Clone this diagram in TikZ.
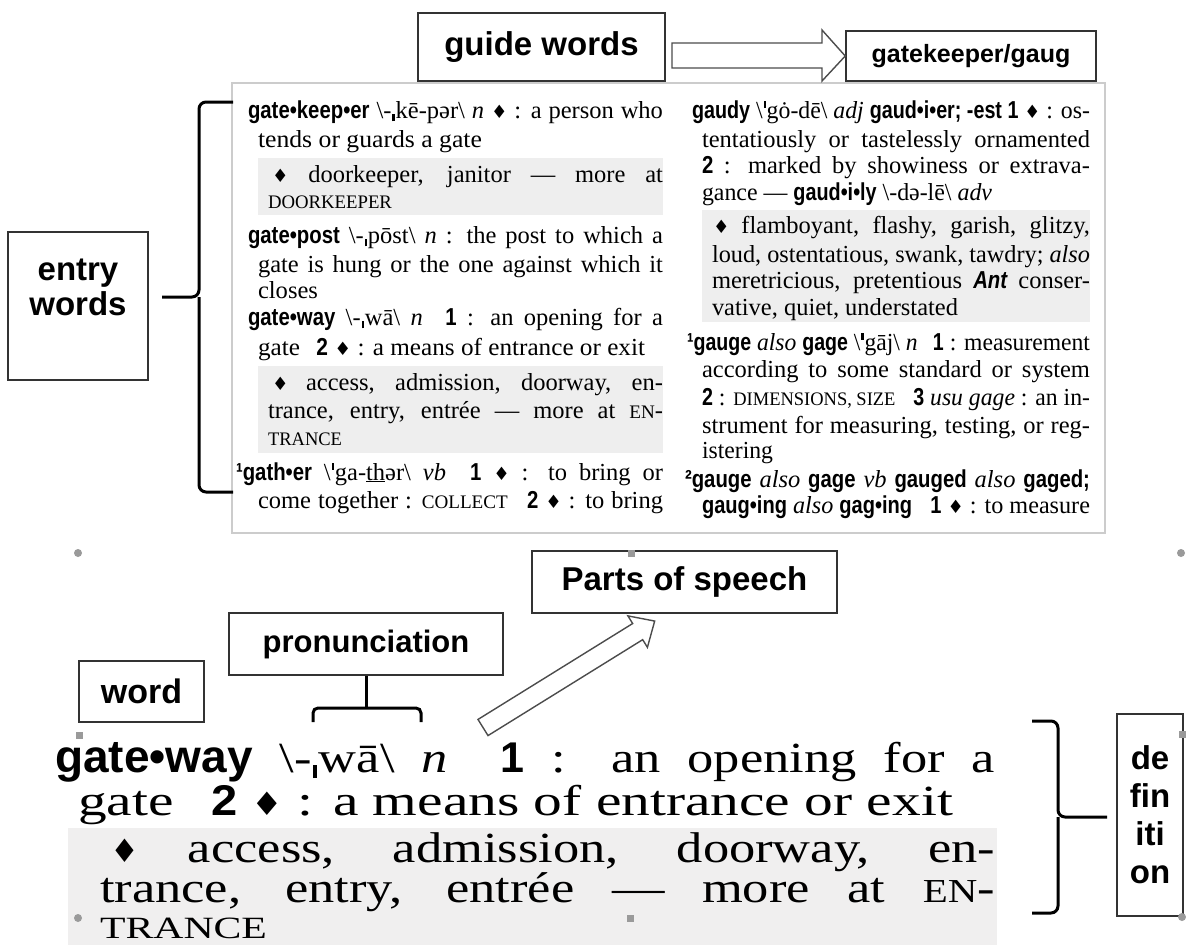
\documentclass[tikz,border=0pt]{standalone}
\usepackage{graphicx}
\usepackage{fontspec}
\setmainfont{Liberation Serif}
\newfontfamily\hw[FakeStretch=0.83]{Liberation Sans}
\newfontfamily\lab{Liberation Sans}
\newfontfamily\sym{DejaVu Sans}
\newfontfamily\bigserif[FakeStretch=1.22]{Liberation Serif}
\definecolor{syn}{HTML}{EEEEEE}
\definecolor{synb}{HTML}{F0EFEF}
\definecolor{hdl}{HTML}{9A9A9A}
\newlength\natw
\newcommand\jl[2]{\settowidth\natw{#2}\ifdim\natw>#1pt\relax\resizebox{#1pt}{\height}{#2}\else\hbox to #1pt{#2}\fi}
\newcommand\fl[2]{\resizebox{#1pt}{\height}{#2}}
\newcommand\bs{\textbackslash}
\newcommand\hwd[1]{{\hw\bfseries #1}}
\newcommand\bn[1]{{\hw\bfseries #1}}
\newcommand\dia{{\sym\scalebox{0.75}{♦}}}
\newcommand\smc[1]{\scalebox{0.78}{#1}}
\newcommand\lst{\hspace{0.04em}\rule[-0.14em]{0.09em}{0.3em}\hspace{0.04em}}
\newcommand\hst{\hspace{0.04em}\rule[0.42em]{0.09em}{0.28em}\hspace{0.04em}}
\newcommand\topfont{\fontsize{24.5}{28}\selectfont}
\newcommand\botfont{\bigserif\fontsize{43}{43}\selectfont}
\tikzset{
  txt/.style={anchor=base west, inner sep=0pt, outer sep=0pt, font=\topfont},
  btxt/.style={anchor=base west, inner sep=0pt, outer sep=0pt, font=\botfont},
  lbox/.style={draw=black!80, line width=1.5pt, fill=white, inner sep=0pt},
  brk/.style={draw=black, line width=3pt, rounded corners=7pt},
  blockarrow/.style={draw=black!70, line width=1.4pt, fill=white, line join=miter},
  hdot/.style={fill=hdl, circle, inner sep=0pt, minimum size=8pt},
  hsq/.style={fill=hdl, inner sep=0pt, minimum size=7pt}
}
\begin{document}
\begin{tikzpicture}[x=1pt, y=-1pt]
\useasboundingbox (0,0) rectangle (1186,945);
\fill[white] (0,0) rectangle (1186,945);

% dictionary panel
\draw[draw=black!20, line width=2pt] (232,83) rectangle (1105,533);
\fill[syn] (258,158) rectangle (663,215);
\fill[syn] (258,366) rectangle (663,453);
\fill[syn] (702,210) rectangle (1090,322);

% left column
\node[txt] (l1) at (248,118) {\jl{415}{\hwd{gate•keep•er} \bs-\lst kē-pər\bs{} \textit{n} \dia{} : a person who}};
\node[txt] (l2) at (258,147) {\fl{224}{tends or guards a gate}};
\node[txt] (l3) at (272,182) {\jl{391}{\dia{} doorkeeper, janitor — more at}};
\node[txt] (l4) at (268,208) {\fl{124}{\smc{DOORKEEPER}}};
\node[txt] (l5) at (248,243) {\jl{415}{\hwd{gate•post} \bs-\lst pōst\bs{} \textit{n} : the post to which a}};
\node[txt] (l6) at (258,272) {\jl{405}{gate is hung or the one against which it}};
\node[txt] (l7) at (258,298) {\fl{60}{closes}};
\node[txt] (l8) at (248,325) {\jl{415}{\hwd{gate•way} \bs-\lst wā\bs{} \textit{n}\hspace{0.5em} \bn{1} : an opening for a}};
\node[txt] (l9) at (258,355) {\fl{387}{gate\hspace{0.4em} \bn{2} \dia{} : a means of entrance or exit}};
\node[txt] (l10) at (272,390) {\jl{391}{\dia{} access, admission, doorway, en-}};
\node[txt] (l11) at (268,418) {\jl{395}{trance, entry, entrée — more at \smc{EN}-}};
\node[txt] (l12) at (268,445) {\fl{74}{\smc{TRANCE}}};
\node[txt] (l13) at (236,480) {\jl{427}{\hwd{¹gath•er} \bs\hst ga-\underline{th}ər\bs{} \textit{vb}\hspace{0.5em} \bn{1} \dia{} : to bring or}};
\node[txt] (l14) at (258,508) {\jl{405}{come together : \smc{COLLECT}\hspace{0.5em} \bn{2} \dia{} : to bring}};

% right column
\node[txt] (r1) at (692,118) {\jl{398}{\hwd{gaudy} \bs\hst gȯ-dē\bs{} \textit{adj} \hwd{gaud•i•er; -est 1} \dia{} : os-}};
\node[txt] (r2) at (702,147) {\jl{388}{tentatiously or tastelessly ornamented}};
\node[txt] (r3) at (702,173) {\jl{388}{\bn{2} : marked by showiness or extrava-}};
\node[txt] (r4) at (702,200) {\fl{290}{gance — \hwd{gaud•i•ly} \bs-də-lē\bs{} \textit{adv}}};
\node[txt] (r5) at (713,233) {\jl{377}{\dia{} flamboyant, flashy, garish, glitzy,}};
\node[txt] (r6) at (712,262) {\jl{378}{loud, ostentatious, swank, tawdry; \textit{also}}};
\node[txt] (r7) at (712,288) {\jl{378}{meretricious, pretentious {\hw\bfseries\itshape Ant} conser-}};
\node[txt] (r8) at (712,315) {\fl{246}{vative, quiet, understated}};
\node[txt] (r9) at (687,350) {\jl{403}{\hwd{¹gauge} \textit{also} \hwd{gage} \bs\hst gāj\bs{} \textit{n}\hspace{0.4em} \bn{1} : measurement}};
\node[txt] (r10) at (702,377) {\jl{388}{according to some standard or system}};
\node[txt] (r11) at (702,405) {\jl{388}{\bn{2} : \smc{DIMENSIONS, SIZE}\hspace{0.5em} \bn{3} \textit{usu gage} : an in-}};
\node[txt] (r12) at (702,433) {\jl{388}{strument for measuring, testing, or reg-}};
\node[txt] (r13) at (702,458) {\fl{71}{istering}};
\node[txt] (r14) at (685,487) {\jl{405}{\hwd{²gauge} \textit{also} \hwd{gage} \textit{vb} \hwd{gauged} \textit{also} \hwd{gaged;}}};
\node[txt] (r15) at (702,513) {\jl{388}{\hwd{gaug•ing} \textit{also} \hwd{gag•ing}\hspace{0.5em} \bn{1} \dia{} : to measure}};

% top labels
\node[lbox, minimum width=247pt, minimum height=68pt, font=\lab\bfseries\fontsize{33}{38}\selectfont] (guide) at (541.5,47) {guide words};
\node[lbox, minimum width=250pt, minimum height=50pt, font=\lab\bfseries\fontsize{25}{30}\selectfont] (gk) at (971,56) {gatekeeper/gaug};
\draw[blockarrow] (672,43) -- (822,43) -- (822,30) -- (gk.west) -- (822,81) -- (822,68) -- (672,68) -- cycle;

% entry words
\node[lbox, minimum width=140pt, minimum height=148pt] (entry) at (78,306) {};
\node[inner sep=0pt, align=center, font=\lab\bfseries\fontsize{33}{35}\selectfont] (entrytxt) at (78,287) {entry\\words};
\coordinate (ebt) at (233,102);
\coordinate (ebm) at (199,297);
\coordinate (ebtip) at (162,297);
\coordinate (ebb) at (233,492);
\draw[brk] (ebt) -| (ebm) -- (ebtip);
\draw[brk] (ebb) -| (ebm);

% bottom section
\fill[synb] (68,828) rectangle (997,945);
\node[btxt] (b1) at (55,772) {\jl{940}{{\lab\bfseries\fontsize{46}{46}\selectfont gate•way} \bs-\lst wā\bs{} \textit{n}\hspace{0.6em} {\lab\bfseries 1} : an opening for a}};
\node[btxt] (b2) at (78,815) {\fl{875}{gate\hspace{0.5em} {\lab\bfseries 2} \dia{} : a means of entrance or exit}};
\node[btxt] (b3) at (110,862) {\jl{885}{\dia{} access, admission, doorway, en-}};
\node[btxt] (b4) at (100,902) {\jl{895}{trance, entry, entrée — more at \smc{EN}-}};
\node[btxt] (b5) at (100,938) {\fl{167}{\scalebox{0.72}{TRANCE}}};

% bottom labels
\node[lbox, minimum width=125pt, minimum height=61pt, font=\lab\bfseries\fontsize{34}{38}\selectfont] (word) at (141.5,691.5) {word};
\node[lbox, minimum width=274pt, minimum height=62pt, font=\lab\bfseries\fontsize{31}{36}\selectfont] (pron) at (366,644) {pronunciation};
\node[lbox, minimum width=305pt, minimum height=62pt, font=\lab\bfseries\fontsize{33}{38}\selectfont] (pos) at (684.5,582) {Parts of speech};
\node[lbox, minimum width=66pt, minimum height=202pt, align=center, font=\lab\bfseries\fontsize{33}{38}\selectfont] (def) at (1150,815) {de\\fin\\iti\\on};

% pronunciation bracket
\coordinate (pbc) at (366,708);
\coordinate (pbl) at (313,722);
\coordinate (pbr) at (421,722);
\draw[brk, rounded corners=0pt] (pron.south) -- (pbc);
\draw[brk, rounded corners=5pt] (pbl) |- (pbc) -| (pbr);

% definition brace
\coordinate (dbt) at (1032,721);
\coordinate (dbm) at (1058,817);
\coordinate (dbtip) at (1107,817);
\coordinate (dbb) at (1032,913);
\draw[brk] (dbt) -| (dbm) -- (dbtip);
\draw[brk] (dbb) -| (dbm);

% parts-of-speech block arrow
\begin{scope}[shift={(483,727.5)}, rotate=31.8]
\draw[blockarrow] (0,-9.5) -- (182,-9.5) -- (182,-18.5) -- (202,0) -- (182,18.5) -- (182,9.5) -- (0,9.5) -- cycle;
\end{scope}

% selection handles
\node[hdot] (h1) at (78,553) {};
\node[hsq] (h2) at (631,553) {};
\node[hdot] (h3) at (1181,553) {};
\node[hsq] (h4) at (79,735) {};
\node[hsq] (h5) at (1182,734) {};
\node[hdot] (h6) at (78,918) {};
\node[hsq] (h7) at (630,918) {};
\node[hdot] (h8) at (1182,917) {};
\end{tikzpicture}
\end{document}
